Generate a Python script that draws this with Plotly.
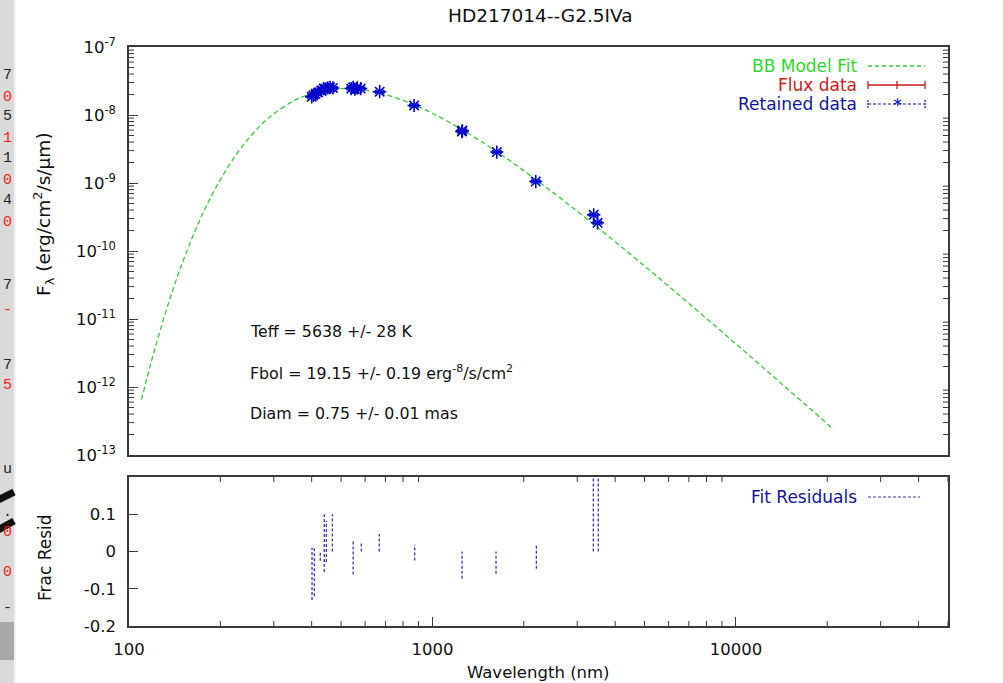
import math
import plotly.graph_objects as go

# ---------------- data ----------------
chart_title = "HD217014--G2.5IVa"

model_wl = [110, 115, 120, 130, 140, 150, 160, 170, 180, 200, 225, 250, 275, 300, 350,
            400, 450, 500, 550, 600, 650, 700, 800, 900, 1000, 1200, 1500, 1750, 2000,
            2500, 3000, 3500, 4000, 5000, 6000, 7000, 8500, 10000, 12000, 14000, 17000, 21000]
model_flux = [6.53e-13, 1.44e-12, 2.92e-12, 1.00e-11, 2.82e-11, 6.75e-11, 1.41e-10, 2.67e-10,
              4.62e-10, 1.12e-9, 2.58e-9, 4.73e-9, 7.45e-9, 1.04e-8, 1.63e-8,
              2.08e-8, 2.35e-8, 2.45e-8, 2.43e-8, 2.32e-8, 2.18e-8, 2.00e-8, 1.64e-8, 1.32e-8,
              1.06e-8, 6.81e-9, 3.69e-9, 2.32e-9, 1.52e-9,
              7.22e-10, 3.84e-10, 2.23e-10, 1.37e-10, 6.02e-11, 3.04e-11, 1.69e-11, 8.07e-12,
              4.31e-12, 2.12e-12, 1.16e-12, 5.45e-13, 2.37e-13]

data_wl = [400, 405, 412, 420, 430, 438, 445, 452, 460, 470,
           540, 548, 555, 565, 580, 670, 870, 1250, 1255, 1630, 2190, 3400, 3500]
data_flux = [1.85e-8, 1.95e-8, 2.05e-8, 2.15e-8, 2.3e-8, 2.45e-8, 2.4e-8, 2.5e-8, 2.55e-8, 2.5e-8,
             2.45e-8, 2.55e-8, 2.4e-8, 2.5e-8, 2.45e-8, 2.2e-8, 1.38e-8, 5.7e-9, 5.9e-9,
             2.85e-9, 1.05e-9, 3.4e-10, 2.6e-10]
data_wl_err_pct = 3

resid_wl = [401, 408, 427, 440, 447, 468, 548, 583, 668, 874, 1252, 1620, 2200, 3390, 3520]
resid_hi = [0.01, 0.01, 0.0, 0.1, 0.082, 0.1, 0.027, 0.027, 0.047, 0.018, 0.0, 0.0, 0.02, 0.21, 0.21]
resid_lo = [-0.13, -0.12, -0.025, -0.055, -0.028, 0.0, -0.062, 0.0, 0.0, -0.024, -0.073, -0.06, -0.046, 0.0, 0.0]

y_tick_vals = [1e-13, 1e-12, 1e-11, 1e-10, 1e-9, 1e-8, 1e-7]
y_tick_text = ["10<sup>-13</sup>", "10<sup>-12</sup>", "10<sup>-11</sup>", "10<sup>-10</sup>",
               "10<sup>-9</sup>", "10<sup>-8</sup>", "10<sup>-7</sup>"]
x_tick_vals = [100, 1000, 10000]
x_tick_text = ["100", "1000", "10000"]
r_tick_vals = [-0.2, -0.1, 0, 0.1]
r_tick_text = ["-0.2", "-0.1", "0", "0.1"]

stats_lines = ["Teff = 5638 +/- 28 K",
               "Fbol = 19.15 +/- 0.19 erg<sup>-8</sup>/s/cm<sup>2</sup>",
               "Diam = 0.75 +/- 0.01 mas"]

# ---------------- styles ----------------
W, H = 1003, 683
ML, MR, MT, MB = 129, 55, 47, 57
PW, PH = W - ML - MR, H - MT - MB
FONT = "DejaVu Sans"
GREEN = "#3fc43f"
GREEN_TXT = "#2ed62e"
RED = "#cc1a1a"
BLUE = "#0000cc"
BLUE_TXT = "#14149c"
RES_BLUE = "#3a3aa8"
FRAME = "#3a3a3a"

X_RANGE = [2, 4.699]
Y_RANGE = [-13, -7]
TOP_Y0, TOP_Y1 = 455, 47      # pixel rows of the top panel (bottom, top)
BOT_Y0, BOT_Y1 = 626, 477     # pixel rows of the residual panel


def px(xp):
    return (xp - ML) / PW


def py(yp):
    return (H - MB - yp) / PH


top_dom = [py(TOP_Y0), 1.0]
bot_dom = [0.0, py(BOT_Y1)]

x_minor = [m * 10 ** e for e in range(2, 5) for m in range(2, 10)
           if math.log10(m * 10 ** e) < X_RANGE[1]]
y_minor = [m * 10.0 ** e for e in range(-13, -7) for m in range(2, 10)]

fig = go.Figure()

fig.add_trace(go.Scatter(x=model_wl, y=model_flux, mode="lines", line_shape="spline",
                         line=dict(color=GREEN, width=1.3, dash="5px,3px"),
                         xaxis="x", yaxis="y", showlegend=False, hoverinfo="skip"))

fig.add_trace(go.Scatter(x=data_wl, y=data_flux, mode="markers",
                         marker=dict(symbol="asterisk-open", size=11, color=BLUE,
                                     line=dict(color=BLUE, width=1.6)),
                         error_x=dict(type="percent", value=data_wl_err_pct, color=BLUE,
                                      thickness=2, width=2),
                         xaxis="x", yaxis="y", showlegend=False))

rx, ry = [], []
for w, lo, hi in zip(resid_wl, resid_lo, resid_hi):
    rx += [w, w, None]
    ry += [lo, hi, None]
fig.add_trace(go.Scatter(x=rx, y=ry, mode="lines",
                         line=dict(color=RES_BLUE, width=1.3, dash="3px,2px"),
                         xaxis="x2", yaxis="y2", showlegend=False, cliponaxis=True))

frame = dict(showline=True, linecolor=FRAME, linewidth=1.5, mirror=True,
             showgrid=False, zeroline=False)
tickfont = dict(family=FONT, size=16.5, color="#111111")

fig.update_layout(
    width=W, height=H,
    margin=dict(l=ML, r=MR, t=MT, b=MB, autoexpand=False),
    paper_bgcolor="white", plot_bgcolor="white",
    showlegend=False,
    xaxis=dict(domain=[0, 1], anchor="y", type="log", range=X_RANGE,
               showticklabels=False, ticks="", **frame),
    yaxis=dict(domain=top_dom, anchor="x", type="log", range=Y_RANGE,
               tickvals=y_tick_vals, ticktext=y_tick_text, ticks="inside", ticklen=9,
               tickcolor=FRAME, tickfont=tickfont, ticklabelstandoff=8,
               **frame),
    xaxis2=dict(domain=[0, 1], anchor="y2", type="log", range=X_RANGE,
                tickvals=x_tick_vals, ticktext=x_tick_text, ticks="inside", ticklen=9,
                tickcolor=FRAME, tickfont=tickfont, ticklabelstandoff=7,
                **frame),
    yaxis2=dict(domain=bot_dom, anchor="x2", range=[-0.2, 0.2],
                tickvals=r_tick_vals, ticktext=r_tick_text, ticks="inside", ticklen=9,
                tickcolor=FRAME, tickfont=tickfont, ticklabelstandoff=8,
                **frame),
)

ann = []


def text(x, y, s, size=16.5, color="#111111", xanchor="left", family=FONT, **kw):
    ann.append(dict(x=px(x), y=py(y), xref="paper", yref="paper", text=s, showarrow=False,
                    xanchor=xanchor, yanchor="middle", font=dict(family=family, size=size, color=color),
                    **kw))


# title and axis titles
text(540, 15, chart_title, size=18.5, xanchor="center")
text(44, 214, "F<sub>λ</sub> (erg/cm<sup>2</sup>/s/μm)", size=18.5, xanchor="center", textangle=-90)
text(45, 558, "Frac Resid", size=17, xanchor="center", textangle=-90)
text(538, 672, "Wavelength (nm)", size=16.5, xanchor="center")

# stats
for s, yy in zip(stats_lines, [331, 373, 413]):
    text(248, yy, s, size=15.8)

# legends
text(859, 66, "BB Model Fit", size=17, color=GREEN_TXT, xanchor="right")
text(859, 85, "Flux data", size=17, color=RED, xanchor="right")
text(859, 104, "Retained data", size=17, color=BLUE_TXT, xanchor="right")
text(859, 497, "Fit Residuals", size=17, color=BLUE_TXT, xanchor="right")
text(897, 104, "*", size=18, color=BLUE, xanchor="center")

shapes = []


def seg(x0, y0, x1, y1, color, width=1.2, dash="solid"):
    shapes.append(dict(type="line", xref="paper", yref="paper", x0=px(x0), y0=py(y0),
                       x1=px(x1), y1=py(y1), line=dict(color=color, width=width, dash=dash)))


# minor ticks of the log axes (axis furniture, placed from the axis ranges)
MINOR_LEN = 5
for v in x_minor:
    xp = ML + (math.log10(v) - X_RANGE[0]) / (X_RANGE[1] - X_RANGE[0]) * PW
    seg(xp, BOT_Y0, xp, BOT_Y0 - MINOR_LEN, FRAME, 1)
    seg(xp, BOT_Y1, xp, BOT_Y1 + MINOR_LEN, FRAME, 1)
for v in y_minor:
    yp = TOP_Y0 - (math.log10(v) - Y_RANGE[0]) / (Y_RANGE[1] - Y_RANGE[0]) * (TOP_Y0 - TOP_Y1)
    seg(ML, yp, ML + MINOR_LEN, yp, FRAME, 1)
    seg(W - MR, yp, W - MR - MINOR_LEN, yp, FRAME, 1)

seg(868, 66, 925, 66, GREEN, 1.3, "4px,3px")
seg(868, 85, 925, 85, RED, 1.3)
for xx in (868, 897, 925):
    seg(xx, 81, xx, 89, RED, 1.3)
seg(868, 104, 925, 104, BLUE_TXT, 1.2, "3px,2px")
for xx in (868, 925):
    seg(xx, 100, xx, 108, BLUE_TXT, 1.2, "2px,1px")
seg(868, 497, 920, 497, RES_BLUE, 1.2, "3px,2px")

# left edge screenshot strip
shapes.append(dict(type="rect", xref="paper", yref="paper", x0=px(-2), x1=px(14),
                   y0=py(H + 2), y1=py(-2), fillcolor="#dadada", line=dict(width=0),
                   layer="below"))
shapes.append(dict(type="rect", xref="paper", yref="paper", x0=px(-2), x1=px(14),
                   y0=py(660), y1=py(622), fillcolor="#a8a8a8", line=dict(width=0)))
shapes.append(dict(type="rect", xref="paper", yref="paper", x0=px(14), x1=px(16),
                   y0=py(H + 2), y1=py(-2), fillcolor="#f2f2f2", line=dict(width=0)))
seg(-2, 500, 14, 492, "#111111", 7)
seg(-2, 530, 14, 521, "#111111", 7)

strip = [(75, "7", "#222222"), (97, "0", "#ee2020"), (117, "5", "#222222"),
         (138, "1", "#ee2020"), (158, "1", "#222222"), (180, "0", "#ee2020"),
         (200, "4", "#222222"), (222, "0", "#ee2020"), (285, "7", "#222222"),
         (310, "-", "#ee2020"), (365, "7", "#222222"), (385, "5", "#ee2020"),
         (470, "u", "#222222"), (512, ".", "#222222"), (532, "0", "#ee2020"),
         (572, "0", "#ee2020"), (608, "-", "#222222")]
for yy, s, c in strip:
    text(14, yy, s, size=15, color=c, xanchor="right", family="Liberation Mono")

fig.update_layout(annotations=ann, shapes=shapes)
fig.write_html("out.html")
